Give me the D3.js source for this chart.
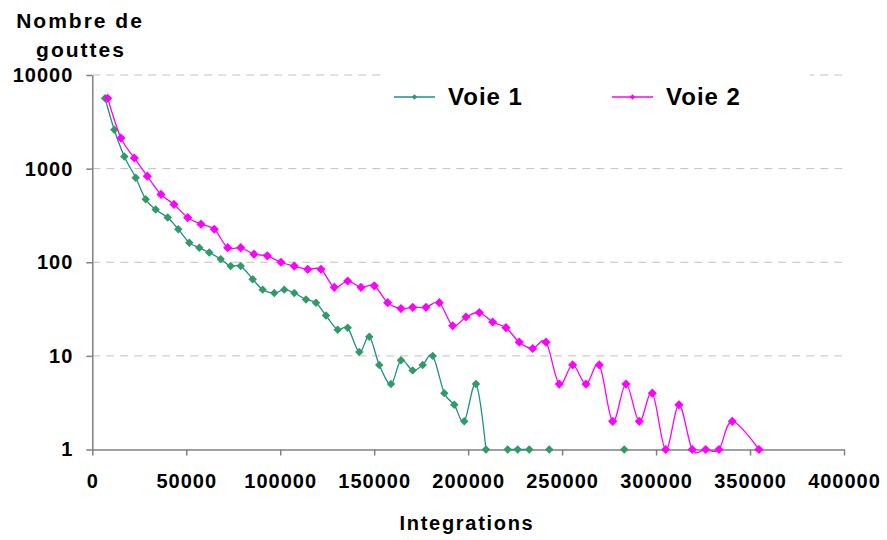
<!DOCTYPE html>
<html>
<head>
<meta charset="utf-8">
<script src="https://cdn.jsdelivr.net/npm/d3@7"></script>
<style>
  body { margin: 0; background: #fff; }
  text { font-family: "Liberation Sans", Arial, sans-serif; font-weight: bold; fill: #000; }
</style>
</head>
<body>
<div id="graph"></div>
<script>
var width = 887, height = 540

// Voie 1 (null = no value, the line breaks there)
var voie1X = [6758, 11706, 17027, 23093, 28414, 33735, 40120, 45761, 51614, 56935,
  62256, 68322, 73643, 78964, 85350, 90670, 96840, 102160, 107480, 113710,
  119030, 124350, 130580, 135900, 142070, 147390, 152710, 158940, 164260, 170480,
  175800, 181130, 187300, 192620, 197940, 204160, 209480, 215250, 221030, 226350,
  232520, 237850, 243170, 248500, 283080]
var voie1Y = [5650, 2600, 1350, 800, 470, 365, 300, 225, 162, 143,
  127, 108, 91, 91, 66, 51, 47, 51, 47, 40,
  37, 27, 19, 20, 11, 16, 8, 5, 9, 7,
  8, 10, 4, 3, 2, 5, 1, null, 1, 1,
  1, null, 1, null, 1]

// Voie 2
var voie2X = [8190, 15270, 22350, 29270, 36560, 43470, 50760, 57840, 64920, 72050,
  78960, 86040, 93120, 100410, 107490, 114620, 121690, 128770, 135900, 142980,
  150050, 157180, 164260, 170490, 177560, 184640, 191770, 198850, 205930, 213050,
  220130, 227210, 234340, 241410, 248490, 255620, 262700, 269770, 276900, 283980,
  291060, 297980, 305110, 312180, 319260, 326390, 333460, 340540, 354750]
var voie2Y = [5650, 2120, 1300, 830, 530, 415, 300, 255, 225, 143,
  143, 122, 117, 100, 91, 84, 84, 54, 63, 54,
  56, 37, 32, 33, 33, 37, 21, 26, 29, 23,
  20, 14, 12, 14, 5, 8, 5, 8, 2, 5,
  2, 4, 1, 3, 1, 1, 1, 2, 1]

var xTicks = [0, 50000, 100000, 150000, 200000, 250000, 300000, 350000, 400000]
var yTicks = [1, 10, 100, 1000, 10000]
var seriesNames = ['Voie 1', 'Voie 2']

var series = [
  {name: seriesNames[0], pts: d3.zip(voie1X, voie1Y), line: '#1b9090', mark: '#339966', ms: 36},
  {name: seriesNames[1], pts: d3.zip(voie2X, voie2Y), line: '#ff00ff', mark: '#ff00ff', ms: 42}
]

var x = d3.scaleLinear().domain([0, 400000]).range([92.3, 844])
var y = d3.scaleLog().domain([1, 10000]).range([449.5, 75])

var svg = d3.select('#graph').append('svg')
    .attr('width', width).attr('height', height)

// grid
svg.append('g').selectAll('line')
  .data(yTicks.slice(1))
  .join('line')
    .attr('x1', x(0)).attr('x2', x(400000))
    .attr('y1', y).attr('y2', y)
    .attr('stroke', '#c0c0c0').attr('stroke-width', 1)
    .attr('stroke-dasharray', '8,6')

// axes
var xAxis = svg.append('g')
    .attr('transform', 'translate(0,' + y(1) + ')')
    .call(d3.axisBottom(x).tickValues(xTicks).tickFormat(d3.format('d'))
      .tickSize(6).tickSizeOuter(0).tickPadding(18))
var yAxis = svg.append('g')
    .attr('transform', 'translate(' + x(0) + ',0)')
    .call(d3.axisLeft(y).tickValues(yTicks).tickFormat(d3.format('d'))
      .tickSize(6).tickSizeOuter(0).tickPadding(13))

;[xAxis, yAxis].forEach(function(g){
  g.selectAll('path, line').attr('stroke', '#808080').attr('stroke-width', 1.5)
  g.selectAll('text').style('font-size', '20px').style('letter-spacing', '1px')
    .attr('fill', '#000')
})

// legend background hides the top grid line
svg.append('rect')
    .attr('x', 385).attr('y', 68).attr('width', 425).attr('height', 55)
    .attr('fill', '#fff')

var line = d3.line()
    .defined(function(d){ return d[1] != null })
    .x(function(d){ return x(d[0]) })
    .y(function(d){ return y(d[1]) })
    .curve(d3.curveCardinal.tension(0))

var diamond = function(s){ return d3.symbol(d3.symbolSquare, s)() }

series.forEach(function(s){
  var g = svg.append('g')
  g.append('path')
      .attr('d', line(s.pts))
      .attr('fill', 'none').attr('stroke', s.line).attr('stroke-width', 1.3)
  g.selectAll('path.m')
    .data(s.pts.filter(function(d){ return d[1] != null }))
    .join('path')
      .attr('class', 'm')
      .attr('d', diamond(s.ms))
      .attr('transform', function(d){ return 'translate(' + x(d[0]) + ',' + y(d[1]) + ') rotate(45)' })
      .attr('fill', s.mark)
})

// legend
var legX = [394, 612]
series.forEach(function(s, i){
  var g = svg.append('g').attr('transform', 'translate(' + legX[i] + ',97)')
  g.append('line').attr('x1', 0).attr('x2', 41)
      .attr('stroke', s.line).attr('stroke-width', 1.3)
  g.append('path').attr('d', diamond(16))
      .attr('transform', 'translate(20.5,0) rotate(45)')
      .attr('fill', s.mark)
  g.append('text').attr('x', 54).attr('y', 8)
      .style('font-size', '24px').style('letter-spacing', '1px')
      .text(s.name)
})

// axis titles
svg.append('text')
    .attr('x', 467).attr('y', 530)
    .attr('text-anchor', 'middle')
    .style('font-size', '20px').style('letter-spacing', '1.7px')
    .text('Integrations')

var yt = svg.append('text')
    .attr('text-anchor', 'middle')
    .style('font-size', '21px').style('letter-spacing', '2px')
yt.append('tspan').attr('x', 80).attr('y', 28).text('Nombre de')
yt.append('tspan').attr('x', 81).attr('y', 57).text('gouttes')
</script>
</body>
</html>
